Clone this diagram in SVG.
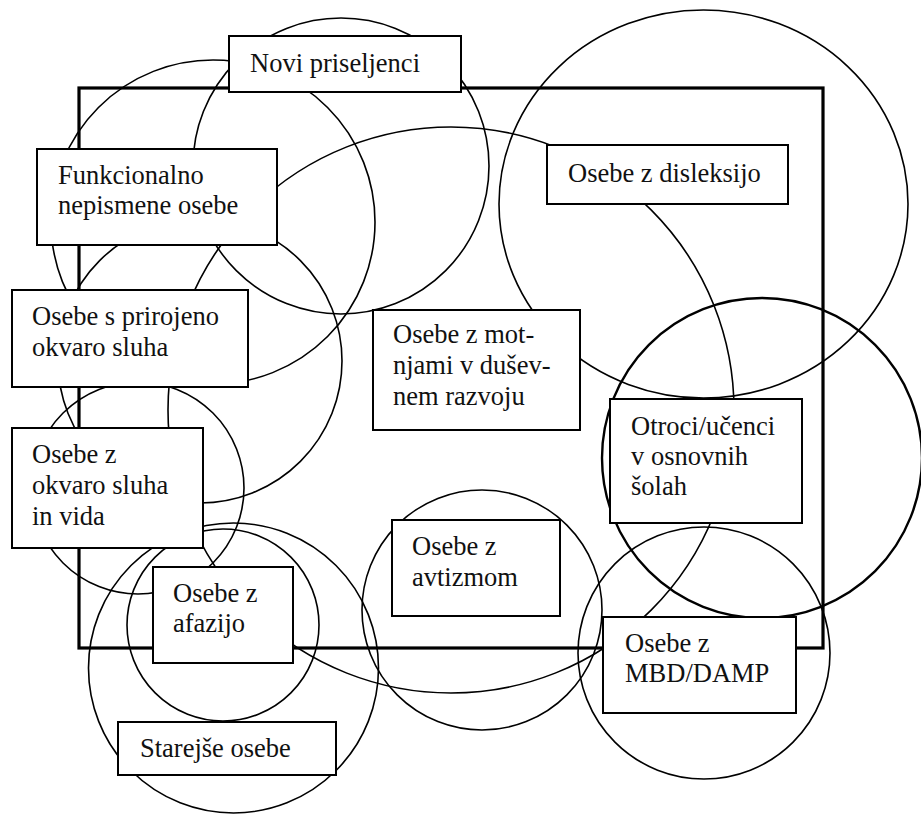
<svg xmlns="http://www.w3.org/2000/svg" width="921" height="815" viewBox="0 0 921 815">
<style>
.c{fill:none;stroke:#000;stroke-width:1.6}
.ct{fill:none;stroke:#000;stroke-width:2.4}
.frame{fill:none;stroke:#000;stroke-width:3.2}
.box{fill:#fff;stroke:#000;stroke-width:2}
text{font-family:"Liberation Serif","Times New Roman",serif;font-size:26.5px;fill:#111}
</style>
<rect width="921" height="815" fill="#fff"/>
<g id="connectors">
<circle class="c" cx="341" cy="166" r="148"/>
<circle class="c" cx="213" cy="222" r="162"/>
<circle class="c" cx="200" cy="361" r="142"/>
<circle class="c" cx="138" cy="488" r="106"/>
<circle class="c" cx="451" cy="410" r="283"/>
<ellipse class="c" cx="703.5" cy="204" rx="204.5" ry="194"/>
<circle class="ct" cx="762" cy="458" r="160"/>
<circle class="c" cx="482" cy="610" r="120"/>
<circle class="c" cx="223" cy="625" r="96"/>
<circle class="c" cx="704" cy="653" r="126"/>
<circle class="c" cx="233.5" cy="668" r="145"/>
<rect class="frame" x="79" y="88" width="744" height="560"/>
</g>
<g id="novi"><rect class="box" x="229" y="36" width="232" height="56"/><text x="250" y="72">Novi priseljenci</text></g>
<g id="funkcionalno"><rect class="box" x="37" y="149" width="240" height="96"/><text x="58" y="184">Funkcionalno</text><text x="58" y="214">nepismene osebe</text></g>
<g id="disleksija"><rect class="box" x="547" y="145" width="241" height="59"/><text x="568" y="182">Osebe z disleksijo</text></g>
<g id="prirojeno"><rect class="box" x="12" y="290" width="236" height="97"/><text x="32" y="325">Osebe s prirojeno</text><text x="32" y="356">okvaro sluha</text></g>
<g id="motnje"><rect class="box" x="373" y="310" width="207" height="120"/><text x="393" y="343">Osebe z mot-</text><text x="393" y="374">njami v dušev-</text><text x="393" y="405">nem razvoju</text></g>
<g id="otroci"><rect class="box" x="610" y="399" width="192" height="124"/><text x="631" y="435">Otroci/učenci</text><text x="631" y="465">v osnovnih</text><text x="631" y="495">šolah</text></g>
<g id="sluhvid"><rect class="box" x="12" y="428" width="191" height="120"/><text x="32" y="463">Osebe z</text><text x="32" y="494">okvaro sluha</text><text x="32" y="525">in vida</text></g>
<g id="avtizem"><rect class="box" x="392" y="520" width="168" height="96"/><text x="412" y="555">Osebe z</text><text x="412" y="586">avtizmom</text></g>
<g id="afazija"><rect class="box" x="153" y="567" width="140" height="96"/><text x="173" y="602">Osebe z</text><text x="173" y="632">afazijo</text></g>
<g id="mbd"><rect class="box" x="603" y="617" width="193" height="96"/><text x="625" y="652">Osebe z</text><text x="625" y="682">MBD/DAMP</text></g>
<g id="starejsi"><rect class="box" x="118" y="722" width="218" height="53"/><text x="140" y="757">Starejše osebe</text></g>
</svg>
